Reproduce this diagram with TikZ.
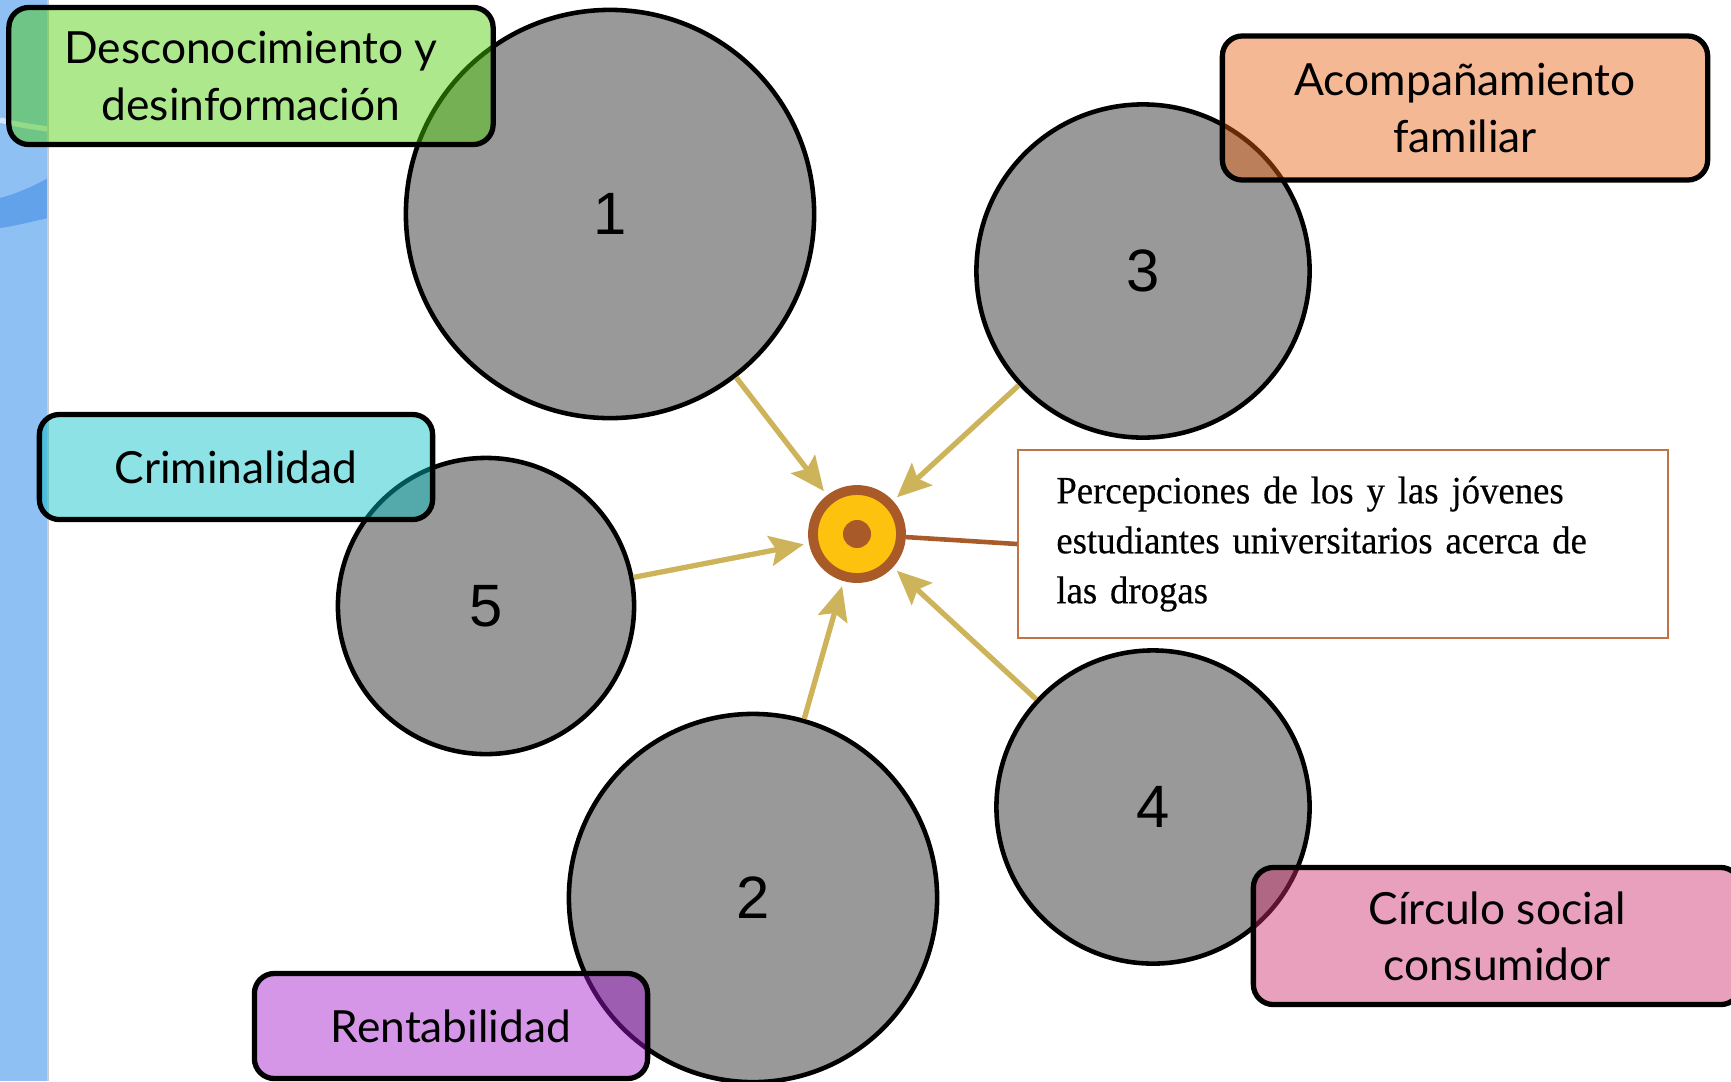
\documentclass[tikz,border=0pt]{standalone}
\usepackage{fontspec}
\setmainfont{Lato}
\newfontfamily\numfont{Liberation Sans}
\newfontfamily\boxfont[FakeStretch=0.95,FakeBold=0.4]{Liberation Serif}
\usepackage{tikz}
\usetikzlibrary{arrows.meta}
\definecolor{stripblue}{HTML}{8EC0F4}
\definecolor{bandblue}{HTML}{62A2EA}
\definecolor{circgray}{HTML}{999999}
\definecolor{arrowgold}{HTML}{CDB35A}
\definecolor{hubbrown}{HTML}{A85A28}
\definecolor{hubyellow}{HTML}{FCC20E}
\definecolor{boxbrown}{HTML}{C07444}
\definecolor{tagone}{RGB}{75,204,0}
\definecolor{tagtwo}{RGB}{162,22,204}
\definecolor{tagthree}{RGB}{232,97,17}
\definecolor{tagfour}{RGB}{204,44,106}
\definecolor{tagfive}{RGB}{0,190,195}

\begin{document}
\begin{tikzpicture}[x=0.01cm,y=-0.01cm]
        \useasboundingbox (0,0) rectangle (1731,1081);
        % strip on the left
        \fill[stripblue] (0,0) rectangle (48,1081);
        \fill[bandblue] (48,178) .. controls (30,188) and (15,194) .. (0,198) -- (0,228) .. controls (15,226) and (30,222) .. (48,218) -- cycle;
        \draw[white!60!stripblue, line width=1.5pt] (0,120) .. controls (20,125) .. (48,129);
        \draw[gray!40, line width=0.8pt] (48,0) -- (48,1081);
        \begin{scope}[main node/.style={circle,fill=circgray,draw=black,line width=1.3pt,inner sep=0pt,font=\numfont\fontsize{17}{20}\selectfont}]
        \node[main node, minimum size=4.08cm] (1) at (610,214) {1};
        \node[main node, minimum size=3.68cm] (2) at (753,898) {2};
        \node[main node, minimum size=3.33cm] (3) at (1143,271) {3};
        \node[main node, minimum size=3.13cm] (4) at (1153,807) {4};
        \node[main node, minimum size=2.96cm] (5) at (486,606) {5};
        \end{scope}
        \node[circle,fill=hubyellow,draw=hubbrown,line width=2.8pt,minimum size=0.88cm,inner sep=0pt] (c) at (857,534) {};
        \fill[hubbrown] (c) circle (0.14cm);
        \begin{scope}[-{Stealth[length=0.34cm,width=0.3cm,inset=0.06cm]},draw=arrowgold,line width=1.5pt,shorten >=1.5pt]
        \path (1) edge (c)
        (3) edge (c)
        (5) edge (c)
        (2) edge (c)
        (4) edge (c);
        \end{scope}
        \node[draw=boxbrown,line width=0.6pt,text width=5.73cm,inner xsep=0.38cm,minimum height=1.88cm,align=left,font=\boxfont\fontsize{11}{14.2}\selectfont] (txt) at (1343,544) {Percepciones de los y las jóvenes\\ estudiantes universitarios acerca de\\ las drogas};
        \draw[hubbrown,line width=1.3pt] (c) -- (txt.west);
        % labels over the circles
        \begin{scope}[tag/.style={rounded corners=0.2cm,draw=black,line width=1.5pt,fill opacity=0.45,text opacity=1,align=center,inner sep=0pt,font=\fontsize{12.6}{16}\selectfont}]
        \node[tag, fill=tagone, minimum width=4.84cm, minimum height=1.37cm] (t1) at (251,76) {Desconocimiento y\\ desinformación};
        \node[tag, fill=tagtwo, minimum width=3.93cm, minimum height=1.05cm] (t2) at (451,1026) {Rentabilidad};
        \node[tag, fill=tagthree, minimum width=4.85cm, minimum height=1.44cm] (t3) at (1465,108) {Acompañamiento\\ familiar};
        \node[tag, fill=tagfour, minimum width=4.87cm, minimum height=1.37cm] (t4) at (1497,936) {Círculo social\\ consumidor};
        \node[tag, fill=tagfive, minimum width=3.93cm, minimum height=1.05cm] (t5) at (236,467) {Criminalidad};
        \end{scope}
\end{tikzpicture}
\end{document}
